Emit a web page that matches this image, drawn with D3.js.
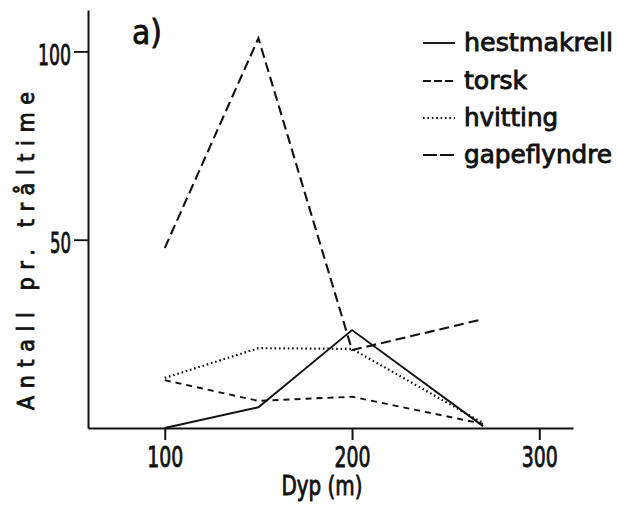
<!DOCTYPE html>
<html>
<head>
<meta charset="utf-8">
<script src="https://cdn.jsdelivr.net/npm/d3@7"></script>
<style>
  html, body { margin: 0; padding: 0; background: #fff; }
  svg { display: block; }
  text { font-family: "DejaVu Sans Condensed", "DejaVu Sans", sans-serif; fill: #111; stroke: #111; stroke-width: 0.8px; }
</style>
</head>
<body>
<svg id="chart" width="619" height="508"></svg>
<script>
// ---- data ----
const depths = [100, 150, 200, 270];
const hestmakrell = [0, 5.5, 26, 0.5];
const torsk = [12.7, 7.2, 8.3, 1.1];
const hvitting = [13.3, 21.2, 21, 1.3];
const gapeflyndre = [47.8, 103.5, 20.7, 28.9];
const seriesNames = ["hestmakrell", "torsk", "hvitting", "gapeflyndre"];
const xTicks = [100, 200, 300];
const yTicks = [50, 100];
const xLabel = "Dyp (m)";
const yLabel = "Antall pr. tråltime";
const panelLabel = "a)";

const seriesValues = [hestmakrell, torsk, hvitting, gapeflyndre];
const dashes = ["none", "6,5", "1.6,2.8", "10,5"];
const widths = [1.9, 1.9, 2.2, 2.1];

const svg = d3.select("#chart");
const x = d3.scaleLinear().domain([59, 318]).range([88, 573]);
const y = d3.scaleLinear().domain([0, 111]).range([428, 10]);
const ink = "#111";

// axes
const xAxis = d3.axisBottom(x).tickValues(xTicks).tickSize(12).tickSizeOuter(0).tickPadding(4);
const gx = svg.append("g").attr("transform", `translate(0,${y(0)})`).call(xAxis);
gx.select(".domain").attr("stroke", ink).attr("stroke-width", 2);
gx.selectAll(".tick line").attr("stroke", ink).attr("stroke-width", 2);
gx.selectAll(".tick text").attr("font-size", 28).attr("dy", "0.72em").attr("y", 19)
  .attr("textLength", 36).attr("lengthAdjust", "spacingAndGlyphs").attr("fill", ink)
  .attr("font-family", "DejaVu Sans Condensed, DejaVu Sans, sans-serif");

const yAxis = d3.axisLeft(y).tickValues(yTicks).tickSize(14).tickSizeOuter(0).tickPadding(3);
const gy = svg.append("g").attr("transform", `translate(${x(59)},0)`).call(yAxis);
gy.select(".domain").attr("stroke", ink).attr("stroke-width", 2);
gy.selectAll(".tick line").attr("stroke", ink).attr("stroke-width", 1.8);
gy.selectAll(".tick text").attr("font-size", 28).attr("dy", "0.45em")
  .attr("textLength", d => d >= 100 ? 33 : 21).attr("lengthAdjust", "spacingAndGlyphs").attr("fill", ink)
  .attr("font-family", "DejaVu Sans Condensed, DejaVu Sans, sans-serif");

// lines
const line = d3.line().x((d, i) => x(depths[i])).y(d => y(d));
seriesValues.forEach((vals, k) => {
  svg.append("path")
    .datum(vals)
    .attr("d", line)
    .attr("fill", "none")
    .attr("stroke", ink)
    .attr("stroke-width", widths[k])
    .attr("stroke-dasharray", dashes[k])
    .attr("stroke-linejoin", "miter");
});

// legend
const legendY = [43, 81, 118, 155];
const legendW = [149, 63, 94, 148];
const lg = svg.append("g");
seriesNames.forEach((name, k) => {
  lg.append("line")
    .attr("x1", 423).attr("x2", 455)
    .attr("y1", legendY[k]).attr("y2", legendY[k])
    .attr("stroke", ink).attr("stroke-width", widths[k])
    .attr("stroke-dasharray", dashes[k] === "10,5" ? "14,3" : (dashes[k] === "6,5" ? "8,3" : dashes[k]));
  lg.append("text")
    .attr("x", 464).attr("y", legendY[k] + 8)
    .attr("font-size", 24)
    .attr("textLength", legendW[k]).attr("lengthAdjust", "spacingAndGlyphs")
    .text(name);
});

// panel label
svg.append("text").attr("x", 132).attr("y", 44).attr("font-size", 34)
  .attr("textLength", 30).attr("lengthAdjust", "spacingAndGlyphs").text(panelLabel);

// axis titles
svg.append("text").attr("x", 322).attr("y", 495).attr("text-anchor", "middle")
  .attr("font-size", 26).attr("textLength", 81).attr("lengthAdjust", "spacingAndGlyphs").text(xLabel);
svg.append("text").attr("transform", "translate(34,251) rotate(-90)").attr("text-anchor", "middle")
  .attr("font-size", 23).attr("textLength", 318).attr("lengthAdjust", "spacing").text(yLabel);
</script>
</body>
</html>
